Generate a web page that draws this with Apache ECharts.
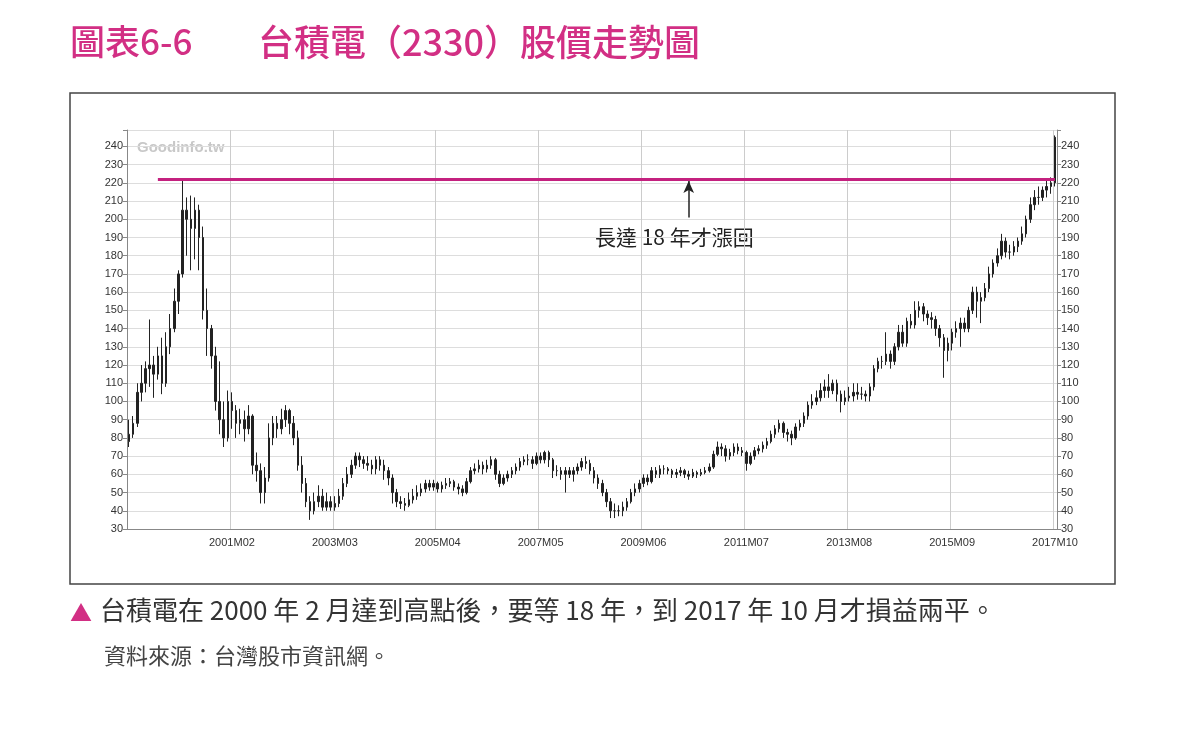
<!DOCTYPE html>
<html>
<head>
<meta charset="utf-8">
<script src="https://cdn.jsdelivr.net/npm/echarts@6/dist/echarts.min.js"></script>
<style>
html,body{margin:0;padding:0;background:#fff;}
#chart{width:1179px;height:740px;}
</style>
</head>
<body>
<div id="chart"></div>
<script>
// 台積電月K：每列 [開, 收, 低, 高]
var p1999 = [[78,82,75,90],[82,88,80,92],[88,105,86,110],[105,110,100,120],[110,118,105,122],[118,120,108,145],[120,115,102,125],[115,125,112,130],[125,110,104,135],[110,130,108,138],[130,140,126,148],[140,155,138,162]];
var p2000 = [[155,170,148,172],[170,205,168,222],[205,200,180,212],[200,195,172,213],[195,205,178,212],[205,190,172,208],[190,150,145,196],[150,140,125,162],[140,125,118,142],[125,100,95,130],[100,90,82,122],[90,80,75,100]];
var p2001 = [[80,100,78,106],[100,95,85,105],[95,88,80,98],[88,90,82,96],[90,85,78,95],[85,92,82,98],[92,65,60,93],[65,62,56,72],[62,50,44,66],[50,58,44,64],[58,80,56,88],[80,88,76,92]];
var p2002 = [[88,85,80,92],[85,90,82,96],[90,95,86,98],[95,88,82,96],[88,80,76,92],[80,65,62,84],[65,55,50,70],[55,45,42,58],[45,40,35,48],[40,45,38,50],[45,48,42,54],[48,42,40,52]];
var p2003 = [[42,45,40,50],[45,42,40,48],[42,44,40,48],[44,48,42,52],[48,55,46,58],[55,60,53,64],[60,65,58,68],[65,70,63,72],[70,68,64,72],[68,66,63,70],[66,65,62,70],[65,63,60,68]];
var p2004 = [[63,68,60,70],[68,65,62,70],[65,62,57,68],[62,58,54,64],[58,50,44,60],[50,45,42,52],[45,44,41,48],[44,43,40,47],[43,46,42,50],[46,48,44,52],[48,50,46,54],[50,52,48,55]];
var p2005 = [[52,55,50,57],[55,53,51,57],[53,55,51,57],[55,52,50,56],[52,54,50,56],[54,55,52,58],[55,56,53,58],[56,53,51,57],[53,52,49,55],[52,50,48,54],[50,56,49,58],[56,62,55,64]];
var p2006 = [[62,63,60,66],[63,65,61,68],[65,63,60,67],[63,65,61,68],[65,68,63,70],[68,60,57,69],[60,55,53,62],[55,58,54,60],[58,60,56,62],[60,62,58,64],[62,64,60,66],[64,67,62,69]];
var p2007 = [[67,68,65,70],[68,68,65,71],[68,66,63,70],[66,70,65,72],[70,68,66,72],[68,72,66,73],[72,68,64,73],[68,62,58,69],[62,62,59,65],[62,60,57,64],[60,62,50,64],[62,60,58,64]];
var p2008 = [[60,62,56,64],[62,64,60,66],[64,67,62,69],[67,66,63,70],[66,62,60,68],[62,58,55,64],[58,55,52,60],[55,50,48,57],[50,45,42,52],[45,40,36,47],[40,40,36,44],[40,40,37,43]];
var p2009 = [[40,42,37,45],[42,45,40,47],[45,50,44,52],[50,52,48,55],[52,55,50,57],[55,58,53,60],[58,56,54,60],[56,62,55,64],[62,60,58,64],[60,63,58,65],[63,63,60,65],[63,62,60,64]];
var p2010 = [[62,60,58,63],[60,61,58,63],[61,62,59,64],[62,60,58,63],[60,59,57,62],[59,61,58,63],[61,60,58,62],[60,61,59,63],[61,62,60,64],[62,64,61,66],[64,71,63,73],[71,75,70,78]];
var p2011 = [[75,74,70,77],[74,70,67,76],[70,72,68,74],[72,75,70,77],[75,73,71,77],[73,72,70,75],[72,66,62,73],[66,70,65,72],[70,73,68,75],[73,74,71,76],[74,76,72,78],[76,78,74,80]];
var p2012 = [[78,82,77,84],[82,85,80,87],[85,88,83,90],[88,83,80,89],[83,82,78,85],[82,80,76,84],[80,86,79,88],[86,88,84,90],[88,92,86,94],[92,98,90,100],[98,100,96,104],[100,102,98,106]];
var p2013 = [[102,106,100,110],[106,108,102,112],[108,106,102,115],[106,110,104,112],[110,104,100,112],[104,100,94,106],[100,102,98,106],[102,103,100,108],[103,105,100,110],[105,104,101,110],[104,104,101,108],[104,103,100,106]];
var p2014 = [[103,108,100,110],[108,118,106,120],[118,122,116,124],[122,122,118,125],[122,126,120,138],[126,122,118,128],[122,130,120,132],[130,138,128,142],[138,132,130,142],[132,144,130,146],[144,142,140,148],[142,150,140,155]];
var p2015 = [[150,152,146,155],[152,148,144,154],[148,146,142,150],[146,145,140,149],[145,140,136,147],[140,135,130,142],[135,128,113,137],[128,132,122,135],[132,138,128,140],[138,140,135,144],[140,143,130,146],[143,140,138,146]];
var p2016 = [[140,150,138,152],[150,160,148,163],[160,155,146,163],[155,157,143,160],[157,162,155,165],[162,170,160,174],[170,176,168,178],[176,180,174,184],[180,188,178,192],[188,182,179,190],[182,182,178,186],[182,185,180,188]];
var p2017 = [[185,188,182,190],[188,192,186,196],[192,200,190,202],[200,208,198,212],[208,212,205,216],[212,212,208,218],[212,216,210,218],[216,218,212,221],[218,220,214,223],[220,245,218,246]];

var years = [p1999,p2000,p2001,p2002,p2003,p2004,p2005,p2006,p2007,p2008,p2009,p2010,p2011,p2012,p2013,p2014,p2015,p2016,p2017];
var firstYear = 1999;
var peakLevel = 222;       // 2000年2月高點
var lineStart = '1999M08';
var arrowMonth = '2010M05';

// 月份類別 + 資料 (library 需要的格式)
var months = [], kdata = [];
years.forEach(function(rows, yi){
    rows.forEach(function(r, mi){
        var m = mi + 1;
        months.push((firstYear + yi) + 'M' + (m < 10 ? '0' + m : m));
        kdata.push([r[0], r[1], r[2], r[3]]);
    });
});

var chart = echarts.init(document.getElementById('chart'));
var yAxisBase = {
    type: 'value', min: 30, max: 249, interval: 10,
    axisLine: {show: true, lineStyle: {color: '#888'}},
    axisTick: {show: true, length: 4, lineStyle: {color: '#888'}},
    axisLabel: {color: '#333', fontSize: 11, fontFamily: 'Liberation Sans', margin: 4,
        formatter: function(v){ return v % 10 === 0 ? v : ''; }},
    splitLine: {show: true, lineStyle: {color: '#ddd'}}
};
var cjk = '"Noto Sans CJK TC"';
var option = {
    backgroundColor: '#fff',
    animation: false,
    graphic: [
        {type: 'text', left: 70, top: 24, style: {text: '圖表6-6', fill: '#d22f84', font: '500 35px ' + cjk}},
        {type: 'text', left: 258, top: 24, style: {text: '台積電（2330）股價走勢圖', fill: '#d22f84', font: '500 36px ' + cjk}},
        {type: 'rect', shape: {x: 70, y: 93, width: 1045, height: 491}, style: {fill: 'none', stroke: '#444', lineWidth: 1.5}},
        {type: 'text', left: 137, top: 140, style: {text: 'Goodinfo.tw', fill: '#c8c8c8', font: 'bold 15px "Liberation Sans"'}},
        {type: 'text', left: 595, top: 227, style: {text: '長達 18 年才漲回', fill: '#222', font: '21px ' + cjk}},
        {type: 'text', left: 70, top: 602, style: {text: '▲', fill: '#d22f84', font: '22px ' + cjk}},
        {type: 'text', left: 100, top: 597, style: {text: '台積電在 2000 年 2 月達到高點後，要等 18 年，到 2017 年 10 月才損益兩平。', fill: '#333', font: '26px ' + cjk}},
        {type: 'text', left: 104, top: 645, style: {text: '資料來源：台灣股市資訊網。', fill: '#444', font: '22px ' + cjk}}
    ],
    grid: {left: 127, right: 122, top: 130, bottom: 211},
    xAxis: {
        type: 'category', data: months, boundaryGap: true,
        axisLine: {lineStyle: {color: '#888'}},
        axisTick: {alignWithLabel: true, interval: function(i){ return i > 0 && i % 25 === 0; }, lineStyle: {color: '#888'}},
        axisLabel: {color: '#333', fontSize: 11, fontFamily: 'Liberation Sans',
            interval: function(i){ return i > 0 && i % 25 === 0; }},
        splitLine: {show: true, interval: function(i){ return i > 0 && i % 25 === 0; }, lineStyle: {color: '#ccc'}}
    },
    yAxis: [
        Object.assign({}, yAxisBase, {position: 'left'}),
        Object.assign({}, yAxisBase, {position: 'right', splitLine: {show: false}})
    ],
    series: [{
        type: 'candlestick',
        data: kdata,
        barWidth: 2,
        itemStyle: {color: '#222', color0: '#222', borderColor: '#222', borderColor0: '#222', borderWidth: 1},
        markLine: {
            silent: true, symbol: 'none', label: {show: false},
            data: [
                [{coord: [lineStart, peakLevel], lineStyle: {color: '#c4217f', width: 3, type: 'solid'}},
                 {coord: [months[months.length - 1], peakLevel]}],
                [{coord: [arrowMonth, 201], symbol: 'none', lineStyle: {color: '#222', width: 1.5, type: 'solid'}},
                 {coord: [arrowMonth, 221], symbol: 'arrow', symbolSize: [8, 12]}]
            ]
        }
    }]
};
chart.setOption(option);
</script>
</body>
</html>
